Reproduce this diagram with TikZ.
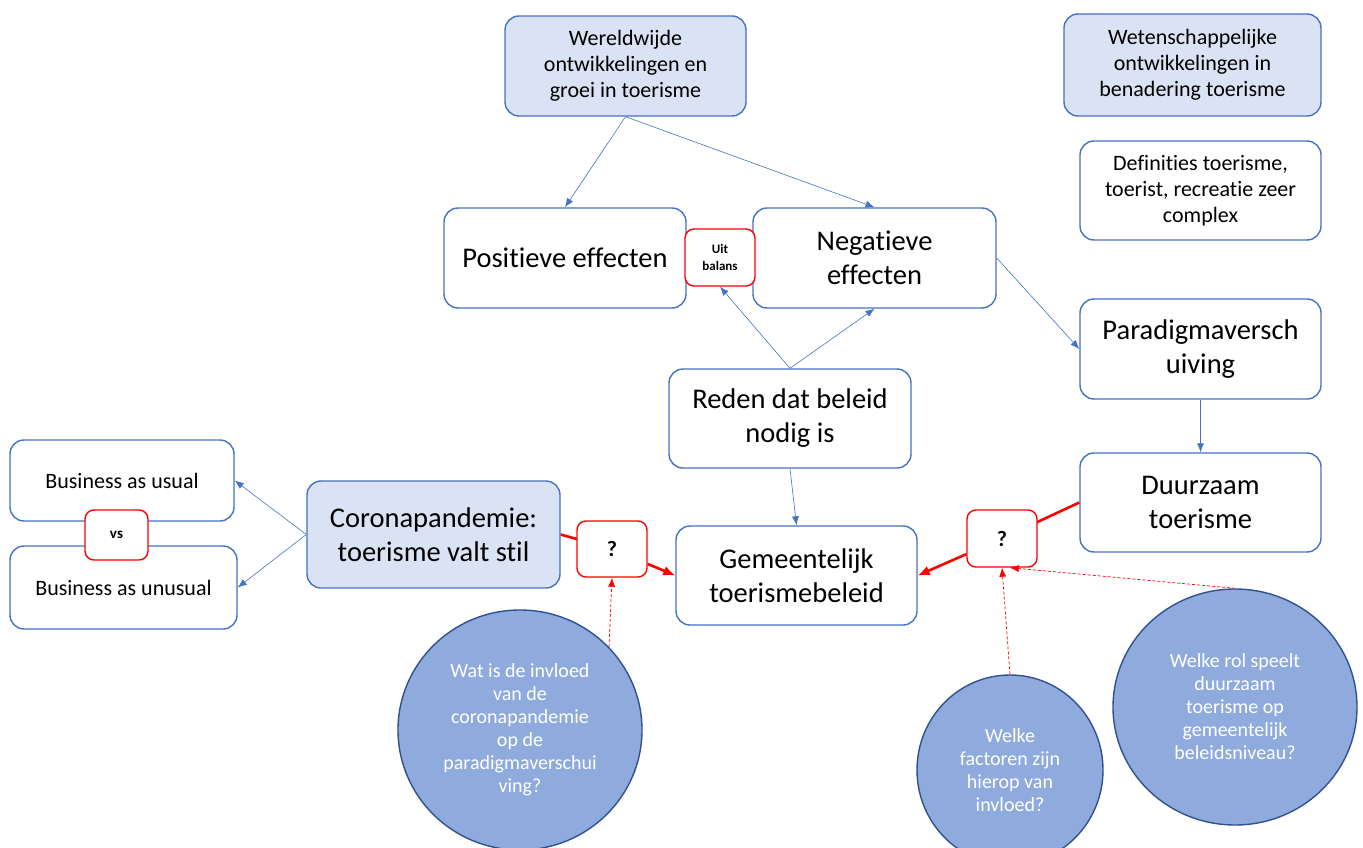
\documentclass[tikz,border=0pt]{standalone}
\usepackage{fontspec}
\setmainfont{Carlito}[Ligatures=NoCommon]
\definecolor{boxblue}{HTML}{4472C4}
\definecolor{boxfill}{HTML}{DAE3F3}
\definecolor{circfill}{HTML}{8FAADC}
\definecolor{circline}{HTML}{2F528F}
\usetikzlibrary{arrows.meta, positioning, shapes.geometric}

\begin{document}
\begin{tikzpicture}[x=1pt, y=-1pt,
		box/.style={draw=boxblue, line width=1.4pt, rounded corners=14pt, fill=white, align=center, inner sep=0pt},
		bigtext/.style={font=\fontsize{28.5}{34}\selectfont},
		midtext/.style={font=\fontsize{22}{26}\selectfont},
		redbox/.style={draw=red, line width=1.4pt, rounded corners=9pt, fill=white, align=center, inner sep=0pt, font=\bfseries},
		vraag/.style={ellipse, draw=circline, line width=1.4pt, fill=circfill, text=white, align=center, inner sep=0pt, font=\fontsize{20}{23}\selectfont},
		link/.style={draw=boxblue, line width=0.6pt, -{Latex[length=9pt,width=7pt]}},
		redlink/.style={draw=red, line width=2.6pt, -{Latex[length=12pt,width=10pt]}},
		dashlink/.style={draw=red, line width=0.7pt, dash pattern=on 3pt off 2pt, -{Latex[length=9pt,width=7pt]}}]
	
	\useasboundingbox (0,0) rectangle (1363,848);
	
	% bovenste rij
	\node[box, midtext, fill=boxfill, minimum width=241pt, minimum height=100pt] (wereld) at (625.5,66) {Wereldwijde\\ontwikkelingen en\\groei in toerisme};
	\node[box, midtext, fill=boxfill, minimum width=257pt, minimum height=102pt] (wetensch) at (1192.5,65) {Wetenschappelijke\\ontwikkelingen in\\benadering toerisme};
	\node[box, midtext, minimum width=241pt, minimum height=99pt] (defin) at (1200.5,190.5) {Definities toerisme,\\toerist, recreatie zeer\\complex};
	
	% effecten
	\node[box, bigtext, minimum width=242pt, minimum height=100pt] (positief) at (565,258) {Positieve effecten};
	\node[box, bigtext, minimum width=243pt, minimum height=100pt] (negatief) at (874.5,258) {Negatieve\\effecten};
	\node[redbox, font=\bfseries\fontsize{13}{17}\selectfont, minimum width=70pt, minimum height=57pt] (uitbalans) at (720,257.5) {Uit\\balans};
	
	\node[box, bigtext, minimum width=241pt, minimum height=100pt] (paradigma) at (1200.5,349) {Paradigmaversch\\uiving};
	\node[box, bigtext, minimum width=242pt, minimum height=99pt] (reden) at (790,418.5) {Reden dat beleid\\nodig is};
	\node[box, bigtext, minimum width=241pt, minimum height=99pt] (duurzaam) at (1200.5,502.5) {Duurzaam\\toerisme};
	\node[box, bigtext, minimum width=241pt, minimum height=99pt] (gemeente) at (796.5,575.5) {Gemeentelijk\\toerismebeleid};
	\node[box, bigtext, fill=boxfill, minimum width=253pt, minimum height=107pt] (corona) at (433.5,534.5) {Coronapandemie:\\toerisme valt stil};
	
	% business
	\node[box, midtext, minimum width=224pt, minimum height=81pt] (usual) at (122,480.5) {Business as usual};
	\node[box, midtext, minimum width=227pt, minimum height=83pt] (unusual) at (123.5,587.5) {Business as unusual};
	\node[redbox, font=\bfseries\fontsize{15}{18}\selectfont, minimum width=63pt, minimum height=50pt] (vs) at (116.5,535) {vs};
	
	% onderzoeksvragen
	\node[vraag, minimum width=244pt, minimum height=240pt] (cirkelA) at (520,730) {Wat is de invloed\\van de\\coronapandemie\\op de\\paradigmaverschui\\ving?};
	\node[vraag, minimum width=186pt, minimum height=190pt] (cirkelB) at (1010,770) {Welke\\factoren zijn\\hierop van\\invloed?};
	\node[vraag, minimum width=244pt, minimum height=236pt] (cirkelC) at (1235,707) {Welke rol speelt\\duurzaam\\toerisme op\\gemeentelijk\\beleidsniveau?};
	
	% pijlen
	\draw[link] (wereld.south) -- (positief.north);
	\draw[link] (wereld.south) -- (negatief.north);
	\draw[link] (reden.north) -- (uitbalans.south);
	\draw[link] (reden.north) -- (negatief.south);
	\draw[link] (negatief.east) -- (paradigma.west);
	\draw[link] (paradigma.south) -- (duurzaam.north);
	\draw[link] (reden.south) -- (gemeente.north);
	\draw[link] (corona.west) -- (usual.east);
	\draw[link] (corona.west) -- (unusual.east);
	
	% rode verbindingen
	\draw[draw=red, line width=2.6pt] (corona.east) -- (612,549);
	\draw[draw=red, line width=2.6pt] (duurzaam.west) -- (1002,538.5);
	\node[redbox, font=\bfseries\fontsize{22}{26}\selectfont, minimum width=70pt, minimum height=56pt] (vraagL) at (612,549) {?};
	\node[redbox, font=\bfseries\fontsize{22}{26}\selectfont, minimum width=70pt, minimum height=57pt] (vraagR) at (1002,538.5) {?};
	\draw[redlink] (vraagL) -- (gemeente.west);
	\draw[redlink] (vraagR) -- (gemeente.east);
	
	\draw[dashlink] (cirkelA.43) -- (vraagL.south);
	\draw[dashlink] (cirkelB.north) -- (vraagR.south);
	\draw[dashlink] (cirkelC.north) -- (vraagR.-75);
	
\end{tikzpicture}
\end{document}
